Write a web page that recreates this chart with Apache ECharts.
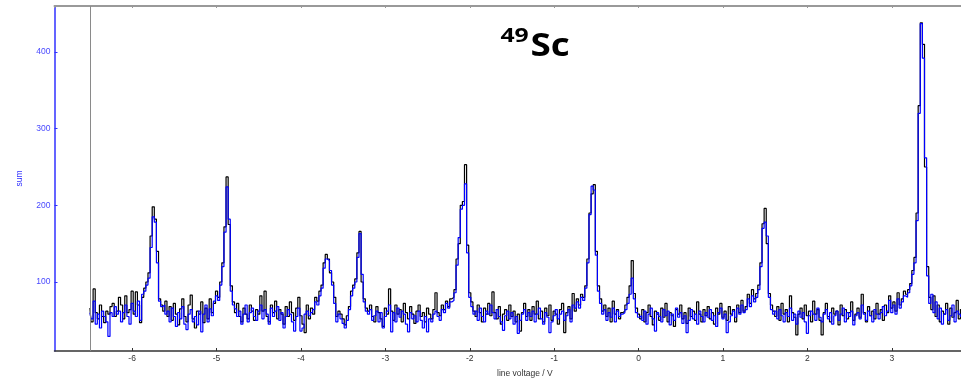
<!DOCTYPE html>
<html>
<head>
<meta charset="utf-8">
<script src="https://cdn.jsdelivr.net/npm/echarts@6/dist/echarts.min.js"></script>
<style>
  html, body { margin: 0; padding: 0; background: #fff; }
  #chart { width: 961px; height: 379px; }
</style>
</head>
<body>
<div id="chart"></div>
<script>
// Voltage scan: bin centres start at voltStart and advance by voltStep
const voltStart = -6.5;
const voltStep = 0.025;

// Summed counts per voltage bin, first scan (black)
const countsBlack = [
  66, 48, 91, 60, 52, 70, 55, 47, 62, 58,
  68, 72, 55, 62, 80, 70, 52, 82, 60, 64,
  88, 58, 87, 70, 47, 80, 92, 100, 112, 160,
  198, 182, 140, 78, 70, 62, 75, 55, 68, 50,
  72, 58, 44, 65, 78, 55, 48, 70, 83, 52,
  40, 62, 58, 74, 47, 66, 52, 78, 60, 72,
  88, 80, 100, 125, 172, 237, 175, 95, 74, 60,
  72, 55, 48, 66, 58, 52, 70, 62, 50, 64,
  58, 82, 62, 88, 55, 48, 70, 60, 75, 52,
  64, 58, 45, 68, 55, 74, 60, 50, 66, 80,
  56, 45, 34, 70, 52, 66, 58, 80, 75, 88,
  96, 125, 136, 130, 112, 100, 80, 55, 62, 58,
  52, 44, 56, 68, 88, 96, 104, 138, 166, 100,
  78, 66, 62, 70, 55, 48, 68, 60, 52, 42,
  66, 58, 91, 62, 50, 70, 58, 64, 48, 72,
  60, 52, 68, 58, 46, 62, 70, 55, 60, 48,
  66, 58, 52, 64, 86, 60, 56, 70, 64, 75,
  68, 78, 80, 90, 130, 150, 200, 205, 253, 148,
  86, 74, 62, 55, 70, 60, 48, 66, 58, 72,
  56, 87, 60, 52, 68, 45, 58, 64, 50, 70,
  55, 62, 48, 58, 36, 60, 72, 55, 64, 50,
  68, 58, 75, 52, 62, 48, 66, 56, 70, 50,
  62, 58, 45, 64, 72, 34, 60, 68, 52, 85,
  62, 78, 70, 84, 80, 95, 130, 190, 215, 227,
  140, 95, 78, 62, 70, 55, 66, 48, 75, 58,
  64, 52, 60, 62, 70, 80, 95, 128, 85, 66,
  58, 52, 64, 48, 60, 70, 55, 44, 62, 58,
  50, 66, 54, 72, 48, 60, 56, 42, 64, 58,
  70, 52, 60, 46, 66, 55, 62, 50, 74, 58,
  48, 64, 56, 68, 52, 60, 45, 66, 58, 72,
  54, 62, 50, 68, 58, 64, 48, 70, 60, 76,
  62, 68, 84, 72, 90, 78, 85, 96, 125, 176,
  196, 150, 85, 70, 62, 55, 68, 50, 72, 58,
  64, 48, 82, 60, 54, 31, 58, 66, 52, 70,
  56, 62, 48, 75, 58, 64, 50, 31, 60, 72,
  55, 48, 66, 58, 62, 44, 70, 56, 64, 52,
  60, 74, 50, 58, 66, 54, 84, 60, 48, 68,
  56, 62, 52, 72, 58, 64, 50, 70, 60, 82,
  66, 74, 62, 86, 70, 78, 88, 84, 90, 98,
  115, 132, 190, 330, 438, 410, 250, 120, 80, 64,
  82, 55, 70, 48, 62, 58, 72, 45, 66, 54,
  60, 76, 52, 64
];

// Summed counts per voltage bin, second scan (blue)
const countsBlue = [
  60, 52, 75, 45, 58, 40, 62, 55, 48, 29,
  60, 55, 68, 58, 62, 48, 60, 70, 55, 45,
  72, 62, 55, 75, 50, 84, 88, 96, 105, 145,
  185, 178, 125, 75, 68, 70, 58, 62, 48, 66,
  55, 42, 60, 52, 68, 45, 38, 58, 64, 48,
  55, 44, 62, 35, 58, 70, 48, 65, 56, 75,
  82, 76, 96, 120, 165, 224, 182, 88, 70, 65,
  55, 62, 45, 58, 70, 48, 60, 66, 55, 50,
  62, 70, 52, 64, 58, 45, 66, 55, 62, 68,
  50, 60, 40, 55, 64, 58, 48, 36, 55, 66,
  36, 40, 58, 62, 56, 60, 64, 74, 70, 82,
  92, 118, 130, 128, 115, 96, 72, 48, 58, 52,
  46, 40, 50, 64, 82, 92, 100, 132, 163, 110,
  74, 62, 58, 64, 50, 56, 62, 48, 60, 40,
  55, 62, 70, 35, 60, 48, 66, 54, 62, 58,
  45, 35, 60, 52, 56, 48, 62, 50, 40, 55,
  35, 52, 48, 58, 62, 55, 50, 64, 60, 72,
  66, 74, 76, 86, 122, 158, 195, 200, 228, 138,
  80, 68, 58, 62, 50, 66, 55, 48, 62, 58,
  70, 60, 52, 64, 55, 48, 37, 56, 62, 52,
  60, 45, 55, 33, 50, 58, 64, 50, 60, 55,
  62, 48, 58, 66, 52, 45, 60, 54, 34, 48,
  56, 64, 52, 58, 62, 50, 56, 64, 48, 70,
  66, 74, 66, 80, 76, 92, 125, 188, 225, 220,
  135, 88, 72, 58, 64, 50, 60, 54, 66, 48,
  62, 55, 58, 60, 64, 72, 84, 105, 78, 60,
  54, 56, 50, 62, 45, 58, 66, 52, 36, 60,
  55, 48, 64, 56, 62, 44, 58, 50, 66, 54,
  60, 46, 56, 34, 50, 64, 52, 58, 45, 62,
  55, 48, 60, 54, 64, 50, 56, 42, 60, 66,
  52, 58, 34, 48, 56, 62, 54, 66, 58, 70,
  60, 64, 78, 68, 82, 74, 80, 90, 120, 170,
  178, 160, 80, 64, 58, 62, 52, 64, 56, 48,
  60, 55, 66, 50, 58, 45, 62, 54, 60, 48,
  33, 56, 62, 58, 50, 66, 54, 48, 58, 64,
  52, 60, 45, 56, 62, 50, 58, 66, 48, 60,
  55, 62, 44, 56, 60, 52, 70, 58, 50, 62,
  56, 48, 64, 58, 52, 60, 68, 56, 62, 76,
  60, 70, 58, 78, 66, 74, 82, 80, 86, 95,
  110, 125, 180, 320, 437, 392, 262, 108, 72, 84,
  60, 74, 52, 66, 45, 58, 64, 50, 56, 70,
  48, 62, 58, 55
];

// Start of the scan window, marked with a vertical line
const scanStartVolt = -6.5;

// Axis extents
const xMin = -6.92, xMax = 3.82;
const yMin = 10, yMax = 460;

function toPairs(counts) {
  return counts.map((c, i) => [+(voltStart + i * voltStep).toFixed(4), c]);
}

const chart = echarts.init(document.getElementById('chart'), null, { renderer: 'canvas' });

const axisFont = 'Liberation Sans';
const blueAxis = '#3030ff';

chart.setOption({
  animation: false,
  backgroundColor: '#fff',
  grid: { left: 54.5, right: 0, top: 6, bottom: 28, containLabel: false },
  xAxis: [
    {
      type: 'value', position: 'bottom', min: xMin, max: xMax, splitNumber: 10,
      axisLine: { show: true, onZero: false, lineStyle: { color: '#333', width: 1.5 } },
      axisTick: { show: true, inside: true, length: 3, lineStyle: { color: '#333' } },
      axisLabel: {
        color: '#333', fontFamily: axisFont, fontSize: 8.5, margin: 3,
        showMinLabel: false, showMaxLabel: false,
        formatter: v => (Math.abs(v - Math.round(v)) < 1e-6 ? String(Math.round(v)) : '')
      },
      splitLine: { show: false }
    },
    {
      type: 'value', position: 'top', min: xMin, max: xMax, splitNumber: 10,
      axisLine: { show: true, onZero: false, lineStyle: { color: '#999', width: 2 } },
      axisTick: { show: true, inside: true, length: 2, lineStyle: { color: '#999' } },
      axisLabel: { show: false },
      splitLine: { show: false }
    }
  ],
  yAxis: {
    type: 'value', min: yMin, max: yMax, splitNumber: 5,
    name: 'sum', nameLocation: 'middle', nameGap: 30,
    nameTextStyle: { color: blueAxis, fontFamily: axisFont, fontSize: 8.5 },
    axisLine: { show: true, onZero: false, lineStyle: { color: blueAxis, width: 1.5 } },
    axisTick: { show: true, inside: true, length: 3, lineStyle: { color: blueAxis } },
    axisLabel: {
      color: '#4848ff', fontFamily: axisFont, fontSize: 8.5, margin: 4,
      showMinLabel: false, showMaxLabel: false,
      formatter: v => (v % 100 === 0 ? String(v) : '')
    },
    splitLine: { show: false }
  },
  series: [
    {
      name: 'scan 1', type: 'line', xAxisIndex: 0, step: 'middle',
      data: toPairs(countsBlack), symbol: 'none',
      lineStyle: { color: '#000', width: 1.2 },
      markLine: {
        silent: true, symbol: ['none', 'none'], label: { show: false },
        lineStyle: { color: '#8a8a8a', width: 1, type: 'solid' },
        data: [{ xAxis: scanStartVolt }]
      },
      z: 2
    },
    {
      name: 'scan 2', type: 'line', xAxisIndex: 0, step: 'middle',
      data: toPairs(countsBlue), symbol: 'none',
      lineStyle: { color: '#0000ff', width: 1.2 },
      z: 3
    }
  ],
  graphic: [
    {
      type: 'text', left: 497, top: 369,
      style: { text: 'line voltage / V', fill: '#333', font: '8.5px "Liberation Sans"' }
    },
    {
      type: 'text', x: 500.5, y: 36.5, scaleX: 1.3,
      style: { text: '49', fill: '#000', font: 'bold 19px "Open Sans"', verticalAlign: 'middle', align: 'left' }
    },
    {
      type: 'text', x: 530.5, y: 46.5, scaleX: 1.15,
      style: { text: 'Sc', fill: '#000', font: 'bold 32px "Open Sans"', verticalAlign: 'middle', align: 'left' }
    }
  ]
});
</script>
</body>
</html>
